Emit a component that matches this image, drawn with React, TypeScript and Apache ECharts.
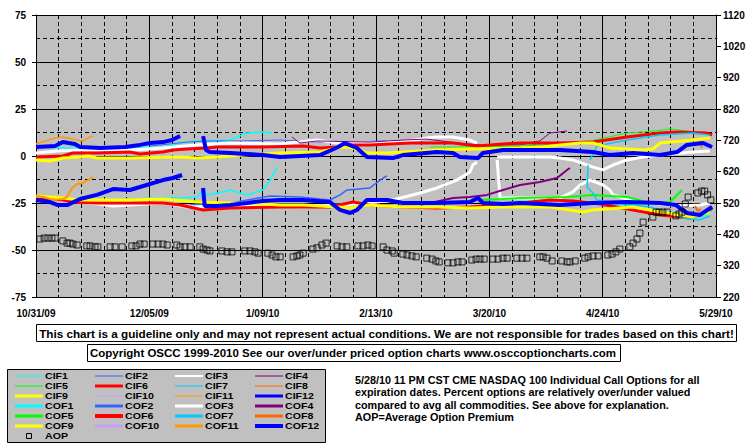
import React, { useEffect, useRef } from 'react';
import * as echarts from 'echarts';

// ---------- axis labels ----------
const X_LABELS = ['10/31/09', '12/05/09', '1/09/10', '2/13/10', '3/20/10', '4/24/10', '5/29/10'];
const RIGHT_TICKS = [220, 320, 420, 520, 620, 720, 820, 920, 1020, 1120];

// ---------- series names / styles ----------
const NAMES = [
  'CIF1', 'CIF2', 'CIF3', 'CIF4', 'CIF5', 'CIF6', 'CIF7', 'CIF8', 'CIF9', 'CIF10', 'CIF11', 'CIF12',
  'COF1', 'COF2', 'COF3', 'COF4', 'COF5', 'COF6', 'COF7', 'COF8', 'COF9', 'COF10', 'COF11', 'COF12',
];
const MONTH_COLORS = ['#00ffff', '#3366ff', '#ffffff', '#800080', '#00ff00', '#ff0000', '#00ccff', '#ff6600', '#ffff00', '#cc99ff', '#ff9900', '#0000ff'];
const CIF_WIDTHS = [1, 1, 2, 1, 1, 3, 1, 1, 3, 1, 1, 3];
const COF_WIDTHS = [3, 3, 3, 3, 3, 4, 3, 3, 3, 3, 3, 4];
const PLOT_CIF_WIDTHS = [1.5, 1, 3, 1, 1, 3, 1.5, 1.5, 3, 1, 1.5, 4];
const PLOT_COF_WIDTHS = [1.5, 1.5, 3, 2, 2, 3, 1.5, 2, 3, 2, 2, 4];

// ---------- data: [day since 10/31/09, percent] ----------
const CIF1 = [[0, 4.8], [8.3, 4.3], [29, 4.3], [39.2, 4.8], [44.5, 6.9], [49.7, 8], [59.9, 8.5], [65.2, 12.2], [70.1, 12.8], [72.9, 12.2]];
const CIF2 = [[35.2, 5.3], [46.6, 7.4], [52.8, 8], [63, 8], [75.4, 8.5], [87.7, 7.4], [97, 7.4], [107.8, 8]];
const CIF3_A = [[0, 1.6], [6.5, 2.7], [13.6, 3.2], [29, 3.2], [39.2, 4.3], [49.7, 5.9], [59.9, 6.9], [75.4, 6.4], [86.8, 8.5], [93, 6.9], [103.1, 6.9], [113.3, 7.4], [120.7, 9.6], [123.8, 10.1], [128.8, 10.1], [134, 8.5], [136.2, 6.9]];
const CIF3_B = [[142.4, -0.5], [158.7, -0.5], [161.8, -1.1], [165.8, -2.1], [172, -5.9], [175.1, -7.4], [178.2, -4.8], [182.5, -2.1], [187.5, -0.5], [192.7, 0.5], [202.9, 2.1], [208.1, 2.7]];
const CIF4 = [[79, 10.1], [81.5, 6.9], [86.8, 8], [103.1, 7.4], [113.3, 8.5], [120.7, 9], [130, 6.9], [137.1, 5.9], [149.5, 5.9], [155.6, 8], [158.7, 12.2], [164, 13.3]];
const CIF5 = [[121.7, 4.8], [136.2, 4.8], [149.5, 5.3], [156.6, 5.9], [165, 6.9], [171.1, 8], [182.5, 12.2], [187.5, 12.8], [193.6, 13.8], [195.8, 14.4], [202.9, 12.8]];
const CIF6 = [[0, -0.5], [8.3, 0], [11.4, 1.6], [18.8, 1.6], [29, 2.1], [32.1, 1.1], [39.2, 2.1], [42.3, 3.2], [46.6, 3.7], [52.8, 4.3], [55.9, 4.8], [70.1, 4.8], [82.5, 5.3], [87.7, 4.3], [93, 4.8], [97, 5.9], [103.1, 5.9], [109.3, 6.4], [115.5, 6.9], [128.8, 6.9], [136.2, 5.3], [144.2, 6.4], [149.5, 6.9], [156.6, 6.9], [161.8, 6.9], [172, 7.4], [182.5, 10.1], [192.7, 12.2], [198, 12.8], [207.2, 12.2], [208.8, 11.2]];
const CIF7 = [[171.1, -2.1], [173.2, 5.3], [182.5, 8.5], [192.7, 11.2], [202.9, 12.2], [208.1, 11.2]];
const CIF8 = [[204.4, 8.5], [205.3, 6.4], [205.6, 4.3]];
const CIF9 = [[0, -2.1], [4.3, -2.7], [8.3, -1.1], [13.6, -0.5], [16.1, 0], [18.8, -1.1], [29, -1.1], [44.5, -0.5], [49.7, -1.1], [55.9, -0.5], [59.9, 0], [70.1, 1.1], [75.4, 1.6], [87.7, 2.1], [93, 4.3], [96, 4.8], [99.1, 3.7], [102.2, 1.6], [108.4, 1.6], [113.3, 2.1], [123.8, 3.2], [134, 3.7], [149.5, 4.3], [156.6, 4.8], [161.8, 5.9], [168, 6.9], [172, 6.9], [177.2, 4.3], [187.5, 3.2], [190.5, 3.7], [192.7, 6.9], [202.9, 8.5], [208.1, 9.6]];
const CIF11 = [[0, 6.4], [2.8, 8], [5.9, 9.6], [8, 10.1], [11.1, 9], [14.5, 8], [16.7, 10.1], [17.6, 10.6]];
const CIF12_A = [[0, 4.8], [5.9, 5.3], [8.3, 7.4], [12, 6.4], [13.6, 4.8], [19.8, 4.3], [27.5, 4.8], [32.1, 5.9], [35.2, 6.9], [39.2, 7.4], [42, 8.5], [44.5, 10.6]];
const CIF12_B = [[51.6, 10.6], [52.5, 3.2], [53.7, 2.1], [59.9, 1.6], [70.1, 0.5], [75.4, -0.5], [87.7, 0.5], [93.3, 4.8], [95.4, 6.9], [99.1, 4.3], [102.2, -0.5], [110.2, -1.1], [113.3, 0.5], [123.8, 2.1], [128.8, 1.6], [130.9, -0.5], [136.5, -1.1], [138, 1.6], [144.2, 3.2], [153.5, 3.2], [161.8, 3.2], [172, 2.1], [177.2, 0.5], [184.4, 1.6], [192.7, 0.5], [198, 2.1], [201, 5.9], [206, 6.9], [208.8, 4.8]];

const COF1_A = [[0, -22.3], [19.8, -23.4], [37.4, -22.3], [44.5, -22.3], [49.7, -21.8], [51.6, -18.1], [52.8, -20.7], [57.7, -19.1], [59.9, -18.1], [65.2, -20.7], [70.1, -18.1], [72.3, -12.8], [74.4, -5.9]];
const COF1_B = [[170.5, -24.5], [183.4, -26.1], [192.7, -29.8], [198.9, -32.4], [203.5, -33], [207.2, -31.4], [208.8, -28.7]];
const COF2 = [[47.6, -26.1], [59.9, -25], [72.3, -21.3], [81.5, -21.8], [87.7, -22.9], [90.8, -23.4], [93.9, -20.7], [96, -18.1], [103.1, -17], [107.2, -11.7], [108.4, -10.6]];
const COF3_A = [[0, -22.3], [7.4, -23.4], [16.7, -25], [23.8, -26.6], [39.2, -25], [46.6, -27.1], [59.9, -26.6], [72.3, -26.6], [82.5, -27.1], [93.9, -26.1], [103.1, -25], [110.2, -23.4], [118.6, -19.7], [123.8, -17], [130, -12.8], [134, -8.5], [134.9, -4.8], [136.2, -3.2]];
const COF3_B = [[142.4, -2.1], [143.3, -22.3], [161.8, -22.3], [165.8, -19.1], [168, -15.4], [171.1, -12.8], [175.1, -15.4], [177.2, -18.1], [178.2, -20.7], [183.4, -23.4], [189.6, -25], [198.9, -26.6], [205, -26.1], [208.1, -25]];
const COF4 = [[118.6, -26.1], [121.7, -25], [128.8, -22.3], [134, -21.8], [139.3, -20.7], [144.2, -18.1], [149.5, -15.4], [155.6, -13.8], [160.9, -11.7], [164, -7.4], [164.9, -6.4]];
const COF5 = [[137.1, -23.4], [144.2, -22.9], [149.5, -22.3], [164, -21.8], [172, -20.7], [182.5, -21.8], [189.6, -25], [195.8, -24.5], [199.5, -18.1]];
const COF6 = [[0, -22.3], [4.3, -22.9], [8.3, -23.4], [11.4, -24.5], [18.8, -25], [29, -25], [39.2, -25], [44.5, -26.1], [51.6, -28.7], [59.9, -27.7], [75.4, -27.1], [90.8, -27.1], [97.9, -24.5], [103.1, -26.1], [113.3, -27.1], [123.8, -27.7], [134, -27.1], [144.2, -26.1], [158.7, -23.4], [165.8, -23.9], [174.2, -25.5], [184.4, -28.7], [192.7, -31.4], [202, -33], [206.6, -30.3], [208.8, -27.7]];
const COF7 = [[170.5, -4.8], [170.2, -16.5], [172, -19.7], [173.2, -23.4], [180.3, -25], [189.6, -27.1], [199.8, -33], [205, -34], [208.1, -31.9]];
const COF8 = [[203.5, -26.6], [204.4, -29.2], [205.3, -28.2]];
const COF9 = [[0, -21.3], [4.3, -21.8], [8.3, -22.3], [13.6, -23.4], [29, -23.4], [39.2, -22.9], [49.7, -24.5], [59.9, -25], [70.1, -25.5], [75.4, -26.1], [82.5, -26.1], [93, -27.1], [97, -27.7], [102.2, -26.1], [113.3, -27.1], [123.8, -27.1], [134, -27.7], [144.2, -27.1], [158.7, -27.1], [168.9, -29.8], [172, -28.7], [184.4, -27.1], [194.9, -30.3], [202.9, -32.4], [208.1, -29.8]];
const COF11 = [[0, -21.3], [2.2, -21.8], [5.2, -23.4], [8.3, -22.9], [9.6, -21.8], [11.1, -17], [12.7, -14.9], [14.5, -14.4], [16.7, -12.2], [17.6, -11.2]];
const COF12_A = [[0, -23.4], [4.3, -24.5], [6.8, -26.1], [9.6, -26.1], [13.6, -22.9], [18.8, -20.7], [23.8, -17.6], [29, -18.1], [32.1, -16.5], [39.2, -12.8], [42.3, -11.7], [45.1, -10.1]];
const COF12_B = [[51.6, -17], [52.1, -26.6], [55.9, -26.6], [59.9, -26.1], [65.2, -25], [70.1, -23.9], [75.4, -23.4], [82.5, -23.4], [90.8, -24.5], [93.9, -28.7], [97, -30.3], [99.1, -28.7], [102.2, -23.4], [108.4, -23.4], [113.3, -25], [123.8, -25], [134, -24.5], [136.5, -22.3], [138, -25], [144.2, -25.5], [149.5, -25], [161.8, -26.1], [172, -25], [182.5, -24.5], [192.7, -25], [197.6, -26.1], [201, -30.3], [205, -31.4], [208.8, -27.1]];

// Average Option Premium, right axis: [day, premium]
const AOP = [
  [1.2, 405], [2.5, 408], [3.7, 408], [4.9, 408], [5.9, 408],
  [8.3, 399], [9.6, 392], [10.5, 392], [11.4, 389], [12.7, 386],
  [15.7, 383], [16.7, 383], [18.2, 380], [19.1, 380],
  [22.9, 380], [24.4, 380], [26.6, 380],
  [29.6, 383], [30.9, 383], [32.1, 389], [33.4, 389],
  [36.1, 389], [37.7, 389], [39.2, 389], [40.5, 386],
  [43.5, 386], [44.5, 380], [46, 380], [47.6, 380],
  [50.6, 380], [51.6, 373], [52.8, 370], [53.7, 367],
  [57.4, 367], [59, 364], [60.5, 364],
  [64.5, 367], [66.1, 367], [67.6, 364], [68.6, 360],
  [71.6, 360], [72.9, 354], [74.1, 348], [75.4, 348],
  [79.4, 348], [80.6, 351], [81.5, 354], [82.5, 360],
  [85.5, 373], [86.8, 377], [88.3, 386], [89.6, 392],
  [93, 383], [94.5, 380], [96, 380],
  [99.4, 383], [101, 383], [102.5, 386], [103.8, 383],
  [107.2, 380], [108.4, 370], [110, 367], [110.6, 360],
  [113.3, 357], [114.6, 354], [116.1, 351], [117.4, 348],
  [120.7, 344], [122.3, 341], [123.5, 335], [124.5, 332],
  [127.2, 329], [128.8, 329], [130.3, 332], [131.6, 332],
  [134.6, 338], [135.9, 341], [137.1, 341], [138.4, 341],
  [141.1, 341], [142.7, 341], [144.2, 344], [145.5, 344],
  [148.5, 344], [150.1, 344], [151.6, 344],
  [155.6, 348], [156.6, 348], [157.8, 344], [159.4, 335],
  [162.4, 335], [164, 332], [164.9, 332], [166.5, 335],
  [169.5, 344], [170.5, 348], [172, 351], [173.6, 351],
  [176.6, 354], [177.9, 357], [179.1, 364], [180.3, 373],
  [183.4, 380], [184.4, 392], [185.6, 405], [186.5, 424], [187.5, 459],
  [190.5, 475], [191.5, 491], [192.4, 491], [193.6, 491], [194.9, 491],
  [197.6, 479], [198.6, 485], [199.5, 491], [200.5, 517], [201.4, 539],
  [204.4, 552], [205.6, 558], [206.5, 558], [207.4, 546], [208.4, 530],
];

const SEGMENTS: [string, number[][]][] = [
  ['CIF1', CIF1], ['CIF2', CIF2], ['CIF3', CIF3_A], ['CIF3', CIF3_B], ['CIF4', CIF4], ['CIF5', CIF5],
  ['CIF6', CIF6], ['CIF7', CIF7], ['CIF8', CIF8], ['CIF9', CIF9], ['CIF11', CIF11],
  ['CIF12', CIF12_A], ['CIF12', CIF12_B],
  ['COF1', COF1_A], ['COF1', COF1_B], ['COF2', COF2], ['COF3', COF3_A], ['COF3', COF3_B], ['COF4', COF4],
  ['COF5', COF5], ['COF6', COF6], ['COF7', COF7], ['COF8', COF8], ['COF9', COF9], ['COF11', COF11],
  ['COF12', COF12_A], ['COF12', COF12_B],
];

const TEXT_DISCLAIMER = 'This chart is a guideline only and may not represent actual conditions. We are not responsible for trades based on this chart!';
const TEXT_COPYRIGHT = 'Copyright OSCC 1999-2010 See our over/under priced option charts www.osccoptioncharts.com';
const NOTE_LINES = [
  '5/28/10 11 PM CST CME NASDAQ 100 Individual Call Options for all',
  'expiration dates. Percent options are relatively over/under valued',
  'compared to avg all commodities. See above for explanation.',
  'AOP=Average Option Premium',
];

const FONT = '"Liberation Sans", Arial, Helvetica, sans-serif';

function styleOf(name: string, plot: boolean) {
  const isCOF = name.startsWith('COF');
  const m = parseInt(name.slice(3), 10) - 1;
  const color = MONTH_COLORS[m];
  const width = plot
    ? (isCOF ? PLOT_COF_WIDTHS[m] : PLOT_CIF_WIDTHS[m])
    : (isCOF ? COF_WIDTHS[m] : CIF_WIDTHS[m]);
  return { color, width };
}

function txt(x: number, y: number, text: string, size: number, align: string, extra: any = {}) {
  return {
    type: 'text', x, y, ...extra,
    style: { text, fill: '#000', fontFamily: FONT, fontWeight: 'bold', fontSize: size, align, verticalAlign: 'middle' },
  };
}

function buildOption() {
  const series: any[] = SEGMENTS.map(([name, data]) => {
    const s = styleOf(name, true);
    return {
      name,
      type: 'line',
      data,
      xAxisIndex: 0,
      yAxisIndex: 0,
      showSymbol: false,
      symbol: 'none',
      silent: true,
      lineStyle: { color: s.color, width: s.width },
      itemStyle: { color: s.color },
    };
  });
  series.push({
    name: 'AOP',
    type: 'scatter',
    data: AOP,
    xAxisIndex: 0,
    yAxisIndex: 1,
    symbol: 'rect',
    symbolSize: 6,
    silent: true,
    itemStyle: { color: 'rgba(0,0,0,0)', borderColor: '#000', borderWidth: 1 },
    z: 5,
  });

  const graphic: any[] = [];
  // disclaimer boxes
  graphic.push({ type: 'rect', shape: { x: 36.5, y: 324.5, width: 700, height: 17 }, style: { fill: '#fff', stroke: '#000', lineWidth: 1 } });
  graphic.push(txt(386.5, 333, TEXT_DISCLAIMER, 11.7, 'center'));
  graphic.push({ type: 'rect', shape: { x: 87.5, y: 344.5, width: 533, height: 17 }, style: { fill: '#fff', stroke: '#000', lineWidth: 1 } });
  graphic.push(txt(353, 353, TEXT_COPYRIGHT, 11.5, 'center'));
  NOTE_LINES.forEach((t, i) => {
    graphic.push(txt(355, 380 + i * 12.4, t, 10.8, 'left'));
  });
  // legend
  graphic.push({ type: 'rect', shape: { x: 7.5, y: 369.5, width: 318, height: 73 }, style: { fill: '#c0c0c0', stroke: '#000', lineWidth: 1 } });
  NAMES.forEach((name, i) => {
    const row = Math.floor(i / 4);
    const col = i % 4;
    const y = 376 + row * 10;
    const s = styleOf(name, false);
    graphic.push({ type: 'line', shape: { x1: 15 + col * 80, y1: y, x2: 43 + col * 80, y2: y }, style: { stroke: s.color, lineWidth: s.width } });
    graphic.push(txt(45 + col * 80, y, name, 9, 'left', { scaleX: 1.18 }));
  });
  graphic.push({ type: 'rect', shape: { x: 26.5, y: 433.5, width: 5, height: 5 }, style: { fill: 'none', stroke: '#000', lineWidth: 1 } });
  graphic.push(txt(45, 436, 'AOP', 9, 'left', { scaleX: 1.18 }));

  const labelStyle = { color: '#000', fontWeight: 'bold', fontSize: 10, fontFamily: FONT };

  return {
    animation: false,
    backgroundColor: '#ffffff',
    grid: { left: 36, top: 15, width: 680, height: 282, show: true, backgroundColor: '#c0c0c0', borderWidth: 0 },
    xAxis: [
      {
        type: 'value', min: 0, max: 210, interval: 35, position: 'bottom',
        axisLine: { show: true, onZero: false, lineStyle: { color: '#000', width: 1 } },
        axisTick: { show: false },
        axisLabel: { ...labelStyle, margin: 11, showMinLabel: true, showMaxLabel: true, formatter: (v: number) => X_LABELS[Math.round(v / 35)] ?? '' },
        splitLine: { show: true, lineStyle: { color: '#000', width: 1 } },
      },
      {
        type: 'value', min: 0, max: 210, interval: 7, position: 'top',
        axisLine: { show: false }, axisTick: { show: false }, axisLabel: { show: false },
        splitLine: { show: true, lineStyle: { color: '#000', width: 1, type: [4, 3] } },
      },
    ],
    yAxis: [
      {
        type: 'value', min: -75, max: 75, interval: 25, position: 'left',
        axisLine: { show: true, onZero: false, lineStyle: { color: '#000', width: 1 } },
        axisTick: { show: true, length: 4, lineStyle: { color: '#000' } },
        axisLabel: { ...labelStyle, margin: 10 },
        splitLine: { show: true, lineStyle: { color: '#000', width: 1 } },
      },
      {
        type: 'value', min: 220, max: 1120, interval: 100, position: 'right',
        axisLine: { show: true, onZero: false, lineStyle: { color: '#000', width: 1 } },
        axisTick: { show: true, length: 5, lineStyle: { color: '#000' }, customValues: RIGHT_TICKS },
        axisLabel: { ...labelStyle, margin: 7, customValues: RIGHT_TICKS, formatter: (v: number) => String(Math.round(v)) },
        splitLine: { show: false },
      },
      {
        type: 'value', min: -75, max: 75, interval: 12.5, position: 'left',
        axisLine: { show: false }, axisTick: { show: false }, axisLabel: { show: false },
        splitLine: { show: true, lineStyle: { color: '#000', width: 1, type: [4, 3] } },
      },
    ],
    series,
    graphic,
  };
}

export default function App() {
  const ref = useRef<HTMLDivElement>(null);
  useEffect(() => {
    if (!ref.current) return;
    const chart = echarts.init(ref.current, null, { renderer: 'svg' });
    chart.setOption(buildOption() as any);
    return () => chart.dispose();
  }, []);
  return (
    <div
      ref={ref}
      style={{ position: 'fixed', left: 0, top: 0, width: 755, height: 446, background: '#fff' }}
    />
  );
}
